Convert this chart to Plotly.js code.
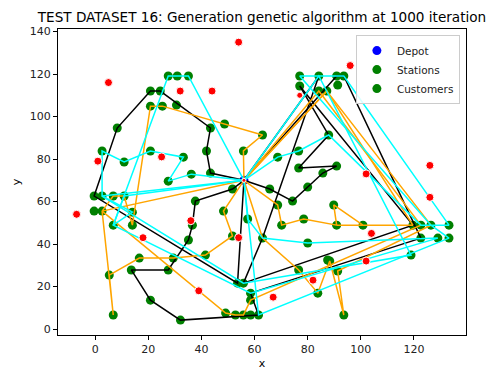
<!DOCTYPE html>
<html><head><meta charset="utf-8">
<script src="https://cdn.plot.ly/plotly-3.0.1.min.js"></script>
<style>body{margin:0;background:#fff}#chart{width:496px;height:370px}</style>
</head><body><div id="chart"></div>
<script>
// ---- data ----
const depotX = [56];
const depotY = [70];

const stationX = [27.5, 30.9, 35.1, 77, 84.2, 90.9, 93.6, 119.6, 122.6, 126.4, 133.2, 122.6, 129, 133.2];
const stationY = [119.1, 119.1, 119.1, 119.1, 119.1, 119.1, 119.1, 48.9, 48.9, 48.9, 48.9, 42.8, 42.8, 42.8];

const customerX = [20.8, 24.5, 20.8, 25.3, 30.6, 8.3, 43.4, 48.7, 63, 77, 84.2, 87.2, 91.3, 87.9,
  2.6, 10.9, 20.8, 33.2, 27.5, 36.2, -0.4, 2.6, 6.8, 10.9, -0.4, 2.6, 6.8, 14, 14,
  41.9, 55.8, 68.7, 76.6, 43.4, 51.7, 65.7, 76.6, 80, 74.3, 68.7, 37.7, 48.3, 57.4, 70.2, 78.5,
  36.6, 51.7, 63, 90.9, 85.7, 89.8, 90.9, 100.8, 35.1, 16.6, 29.4, 5.3, 13.6, 27.5, 20.8, 6.8, 32.1,
  41.5, 76.6, 87.5, 53.6, 55.8, 58.5, 58.5, 49.1, 52.8, 55.8, 58.5, 61.5, 83.8, 88.3, 91.3, 93.6, 118.9, 80];
const customerY = [112, 112, 104.9, 104.9, 105.4, 94.6, 94.6, 96.5, 91.3, 114.4, 112, 112, 114.8, 91.3,
  83.8, 78.6, 83.8, 80.9, 69.6, 72.9, 62.6, 62.6, 62.6, 62.6, 55.5, 55.5, 48.9, 48.9, 55,
  83.8, 83.8, 80.9, 83.8, 73.4, 65.9, 65.9, 75.8, 66.8, 60.2, 58.4, 60.2, 55.5, 51.8, 48.9, 51.8,
  48.9, 43.8, 42.8, 76.7, 73.4, 58.4, 48.9, 48.9, 41.9, 33.4, 33.4, 25.4, 27.8, 27.8, 13.6, 6.6, 4.2,
  34.8, 27.8, 32.5, 21.6, 21.6, 16.9, 13.6, 7.5, 6.6, 6.6, 6.6, 6.6, 16.9, 32, 27.3, 6.6, 34.8, 40.5];

const otherX = [5, 32, 44, 54, 96, 1, 25, 102, 126, 126, -7, 36, 18, 54, 104, 102, 39, 67, 82, 77, 56];
const otherY = [116, 112, 112, 135, 124, 79, 81, 73, 77, 62, 54, 51, 43, 43, 45, 32, 18, 15, 23, 110, 70];
const otherSize = [8, 8, 8, 8, 8, 8, 8, 8, 8, 8, 8, 8, 8, 8, 8, 8, 8, 8, 8, 6, 4];

// routes (visiting order), each starts and ends at the depot
const blackRoute1X = [56, 43.4, 41.9, 43.4, 24.5, 20.8, 8.3, -0.4, 53.6, 56];
const blackRoute1Y = [70, 73.4, 83.8, 94.6, 112, 112, 94.6, 62.6, 21.6, 70];
const blackRoute2X = [56, 51.7, 37.7, 36.6, 35.1, 27.5, 13.6, 20.8, 32.1, 61.5, 58.5, 122.6, 93.6, 90.9, 56];
const blackRoute2Y = [70, 65.9, 60.2, 48.9, 41.9, 27.8, 27.8, 13.6, 4.2, 6.6, 16.9, 42.8, 119.1, 119.1, 70];
const blackRoute3X = [56, 65.7, 74.3, 80, 85.7, 90.9, 76.6, 87.9, 77, 119.6, 55.8, 63, 84.2, 56];
const blackRoute3Y = [70, 65.9, 60.2, 66.8, 73.4, 76.7, 75.8, 91.3, 114.4, 48.9, 21.6, 42.8, 119.1, 70];

const orangeRoute1X = [56, 55.8, 63, 48.7, 25.3, 20.8, 14, 10.9, 6.8, 2.6, 56];
const orangeRoute1Y = [70, 83.8, 91.3, 96.5, 104.9, 104.9, 48.9, 62.6, 62.6, 55.5, 70];
const orangeRoute2X = [56, 48.3, 51.7, 41.5, 29.4, 16.6, 5.3, 6.8, 2.6, 49.1, 52.8, 55.8, 58.5, 122.6, 84.2, 56];
const orangeRoute2Y = [70, 55.5, 43.8, 34.8, 33.4, 33.4, 25.4, 6.6, 55.5, 7.5, 6.6, 6.6, 13.6, 48.9, 112, 70];
const orangeRoute3X = [56, 68.7, 70.2, 78.5, 90.9, 89.8, 100.8, 90.9, 119.6, 87.2, 56];
const orangeRoute3Y = [70, 58.4, 48.9, 51.8, 48.9, 58.4, 48.9, 48.9, 48.9, 112, 70];
const orangeRoute4X = [56, 63, 76.6, 83.8, 88.3, 93.6, 91.3, 126.4, 87.2, 56];
const orangeRoute4Y = [70, 42.8, 27.8, 16.9, 32, 6.6, 27.3, 48.9, 112, 70];

const cyanRoute1X = [56, 36.2, 27.5, 33.2, 20.8, 10.9, 2.6, 2.6, 14, 6.8, 27.5, 30.9, 35.1, 56];
const cyanRoute1Y = [70, 72.9, 69.6, 80.9, 83.8, 78.6, 83.8, 62.6, 55, 48.9, 119.1, 119.1, 119.1, 70];
const cyanRoute2X = [56, 68.7, 76.6, 87.9, 122.6, 133.2, 93.6, 90.9, 84.2, 77, 126.4, 133.2, 61.5, 56];
const cyanRoute2Y = [70, 80.9, 83.8, 91.3, 48.9, 48.9, 119.1, 119.1, 119.1, 119.1, 48.9, 42.8, 6.6, 70];
const cyanRoute3X = [56, 57.4, 63, 80, 129, 58.5, 6.8, 10.9, 56];
const cyanRoute3Y = [70, 51.8, 42.8, 40.5, 42.8, 16.9, 48.9, 62.6, 70];
const cyanRoute4X = [56, 84.2, 118.9, 55.8, 2.6, 56];
const cyanRoute4Y = [70, 119.1, 34.8, 21.6, 62.6, 70];

const routes = [
  [blackRoute1X, blackRoute1Y, 'black'], [blackRoute2X, blackRoute2Y, 'black'], [blackRoute3X, blackRoute3Y, 'black'],
  [orangeRoute1X, orangeRoute1Y, 'orange'], [orangeRoute2X, orangeRoute2Y, 'orange'],
  [orangeRoute3X, orangeRoute3Y, 'orange'], [orangeRoute4X, orangeRoute4Y, 'orange'],
  [cyanRoute1X, cyanRoute1Y, 'cyan'], [cyanRoute2X, cyanRoute2Y, 'cyan'],
  [cyanRoute3X, cyanRoute3Y, 'cyan'], [cyanRoute4X, cyanRoute4Y, 'cyan']
];

const traces = [];
traces.push({x: depotX, y: depotY, mode: 'markers', type: 'scatter', name: 'Depot',
  marker: {color: '#0000ff', size: 9, opacity: 1}});
traces.push({x: stationX, y: stationY, mode: 'markers', type: 'scatter', name: 'Stations',
  marker: {color: '#008000', size: 9, opacity: 1}});
traces.push({x: customerX, y: customerY, mode: 'markers', type: 'scatter', name: 'Customers',
  marker: {color: '#008000', size: 9, opacity: 1}});
routes.forEach(r => traces.push({x: r[0], y: r[1], mode: 'lines', type: 'scatter', showlegend: false,
  line: {color: r[2], width: 1.5}, hoverinfo: 'skip'}));
traces.push({x: otherX, y: otherY, mode: 'markers', type: 'scatter', showlegend: false,
  marker: {color: '#ff0000', size: otherSize, opacity: 1}});

const font = 'DejaVu Sans, sans-serif';
const axisCommon = {showgrid: false, zeroline: false, showline: true, mirror: true, linecolor: '#000', linewidth: 1,
  ticks: 'outside', ticklen: 4, tickcolor: '#000', tickfont: {family: font, size: 11, color: '#222'}, dtick: 20};

const layout = {
  width: 496, height: 370,
  margin: {l: 58, r: 30, t: 29, b: 35},
  paper_bgcolor: '#fff', plot_bgcolor: '#fff',
  title: {text: 'TEST DATASET 16: Generation genetic algorithm at 1000 iteration', font: {family: font, size: 13.6, color: '#000'},
    x: 0.5, xref: 'paper', y: 0.965, yref: 'container'},
  xaxis: Object.assign({}, axisCommon, {range: [-14, 139.6], title: {text: 'x', font: {family: font, size: 11, color: '#000'}, standoff: 4}}),
  yaxis: Object.assign({}, axisCommon, {range: [-2.8, 141.2], title: {text: 'y', font: {family: font, size: 11, color: '#000'}, standoff: 6}}),
  legend: {x: 0.985, y: 0.98, xanchor: 'right', yanchor: 'top', bgcolor: 'rgba(255,255,255,0.85)', bordercolor: '#ccc', borderwidth: 1,
    font: {family: font, size: 10.5, color: '#222'}, tracegroupgap: 0},
  showlegend: true
};

Plotly.newPlot('chart', traces, layout, {displayModeBar: false, staticPlot: true});
</script></body></html>
